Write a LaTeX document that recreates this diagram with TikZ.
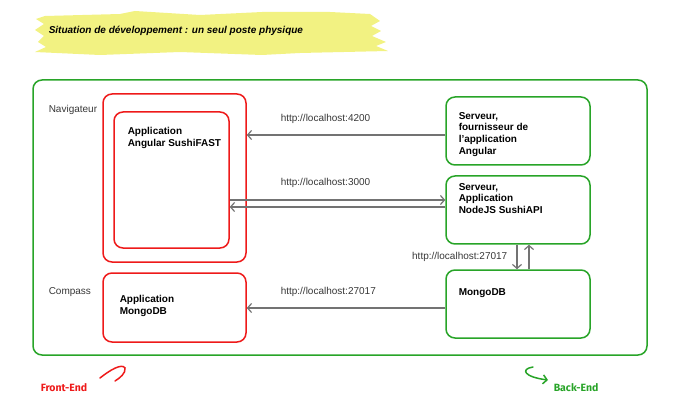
\documentclass[tikz,border=0pt]{standalone}
\usepackage{fontspec}
\setmainfont{Liberation Sans}
\newfontfamily\handfont{Fira Sans}
\usetikzlibrary{arrows.meta}
\definecolor{devred}{RGB}{238,26,26}
\definecolor{devgreen}{RGB}{40,164,40}
\definecolor{devyellow}{RGB}{242,242,130}
\definecolor{devgrey}{RGB}{115,115,115}
\definecolor{devtext}{RGB}{55,55,55}

\begin{document}
\begin{tikzpicture}[x=1pt,y=-1pt,line width=1.5pt,>={Straight Barb[length=4pt,width=9pt]}]
                \tikzstyle{every node}=[font=\fontsize{10}{11.8}\selectfont, inner sep=0pt]
                \tikzstyle{redbox}=[draw=devred, rounded corners=9pt]
                \tikzstyle{greenbox}=[draw=devgreen, rounded corners=9pt]
                \tikzstyle{boxtext}=[anchor=north west, align=left, font=\fontsize{10}{11.8}\selectfont\bfseries]
                \tikzstyle{url}=[anchor=west, text=devtext]
                \tikzstyle{link}=[->, draw=devgrey, line width=1.2pt]
                \useasboundingbox (0,0) rectangle (680,406);

                % bandeau du titre
                \fill[devyellow] (45,16) -- (120,14) -- (135,11) -- (200,15) -- (262,12) -- (330,12)
                    -- (370,14) -- (380,21) -- (371,26) -- (381,31) -- (372,36) -- (386,42) -- (376,46)
                    -- (388,51) -- (300,53) -- (262,55) -- (180,52) -- (100,55) -- (35,52) -- (46,47)
                    -- (38,42) -- (44,36) -- (35,30) -- (44,24) -- (36,19) -- cycle;
                \node[anchor=west, font=\fontsize{10}{11.8}\selectfont\bfseries\itshape] (titre) at (48,31)
                    {Situation de développement : un seul poste physique};

                \node[greenbox, minimum width=614pt, minimum height=275pt] (poste) at (340,217.5) {};

                % front
                \node[redbox, minimum width=143pt, minimum height=168pt] (nav) at (174.5,178) {};
                \node[redbox, minimum width=115pt, minimum height=136pt] (ang) at (171.5,180) {};
                \node[redbox, minimum width=143pt, minimum height=69pt] (cp) at (174.5,307.5) {};
                \node[url] (navt) at (48,110) {Navigateur};
                \node[url] (cpt) at (48,292) {Compass};
                \node[boxtext] (angt) at (127,126.3) {Application\\Angular SushiFAST};
                \node[boxtext] (cpa) at (119,294.3) {Application\\MongoDB};

                % back
                \node[greenbox, minimum width=144pt, minimum height=68pt] (fs) at (518,131) {};
                \node[greenbox, minimum width=144pt, minimum height=68pt] (api) at (518,210) {};
                \node[greenbox, minimum width=144pt, minimum height=68pt] (mg) at (518,304) {};
                \node[boxtext] (fst) at (458,111.3) {Serveur,\\fournisseur de\\l'application\\Angular};
                \node[boxtext] (apit) at (458,182.3) {Serveur,\\Application\\NodeJS SushiAPI};
                \node[boxtext] (mgt) at (458,288.3) {MongoDB};

                % liaisons
                \coordinate (c1) at ([yshift=-4pt]fs.west);
                \coordinate (c2) at ([yshift=10pt]api.west);
                \coordinate (c3) at ([yshift=3pt]api.west);
                \coordinate (c4) at ([xshift=-1pt]api.south);
                \coordinate (c5) at ([xshift=11pt]mg.north);
                \coordinate (c6) at ([yshift=-4pt]mg.west);
                \draw[link] (c1) -- (c1 -| nav.east);
                \draw[link] (c2 -| ang.east) -- (c2);
                \draw[link] (c3) -- (c3 -| ang.east);
                \draw[link] (c4) -- (c4 |- mg.north);
                \draw[link] (c5) -- (c5 |- api.south);
                \draw[link] (c6) -- (c6 -| cp.east);
                \node[url] (u4200) at (280,119) {http://localhost:4200};
                \node[url] (u3000) at (280,183) {http://localhost:3000};
                \node[url] (u27017) at (280,292) {http://localhost:27017};
                \node[url, anchor=east] (v27017) at (508,257) {http://localhost:27017};

                % legende
                \draw[devred, line cap=round] (100,378) .. controls (110,370) and (122,363) .. (125,368)
                    .. controls (126,373) and (120,378) .. (115,381);
                \draw[devgreen, line cap=round, ->] (533,367) .. controls (520,369) and (524,377) .. (548,380);
                \node[anchor=west, text=devred, font=\handfont\fontsize{10.5}{12}\selectfont\bfseries] (fe) at (40,388) {Front-End};
                \node[anchor=west, text=devgreen, font=\handfont\fontsize{10.5}{12}\selectfont\bfseries] (be) at (553,388) {Back-End};
\end{tikzpicture}
\end{document}
